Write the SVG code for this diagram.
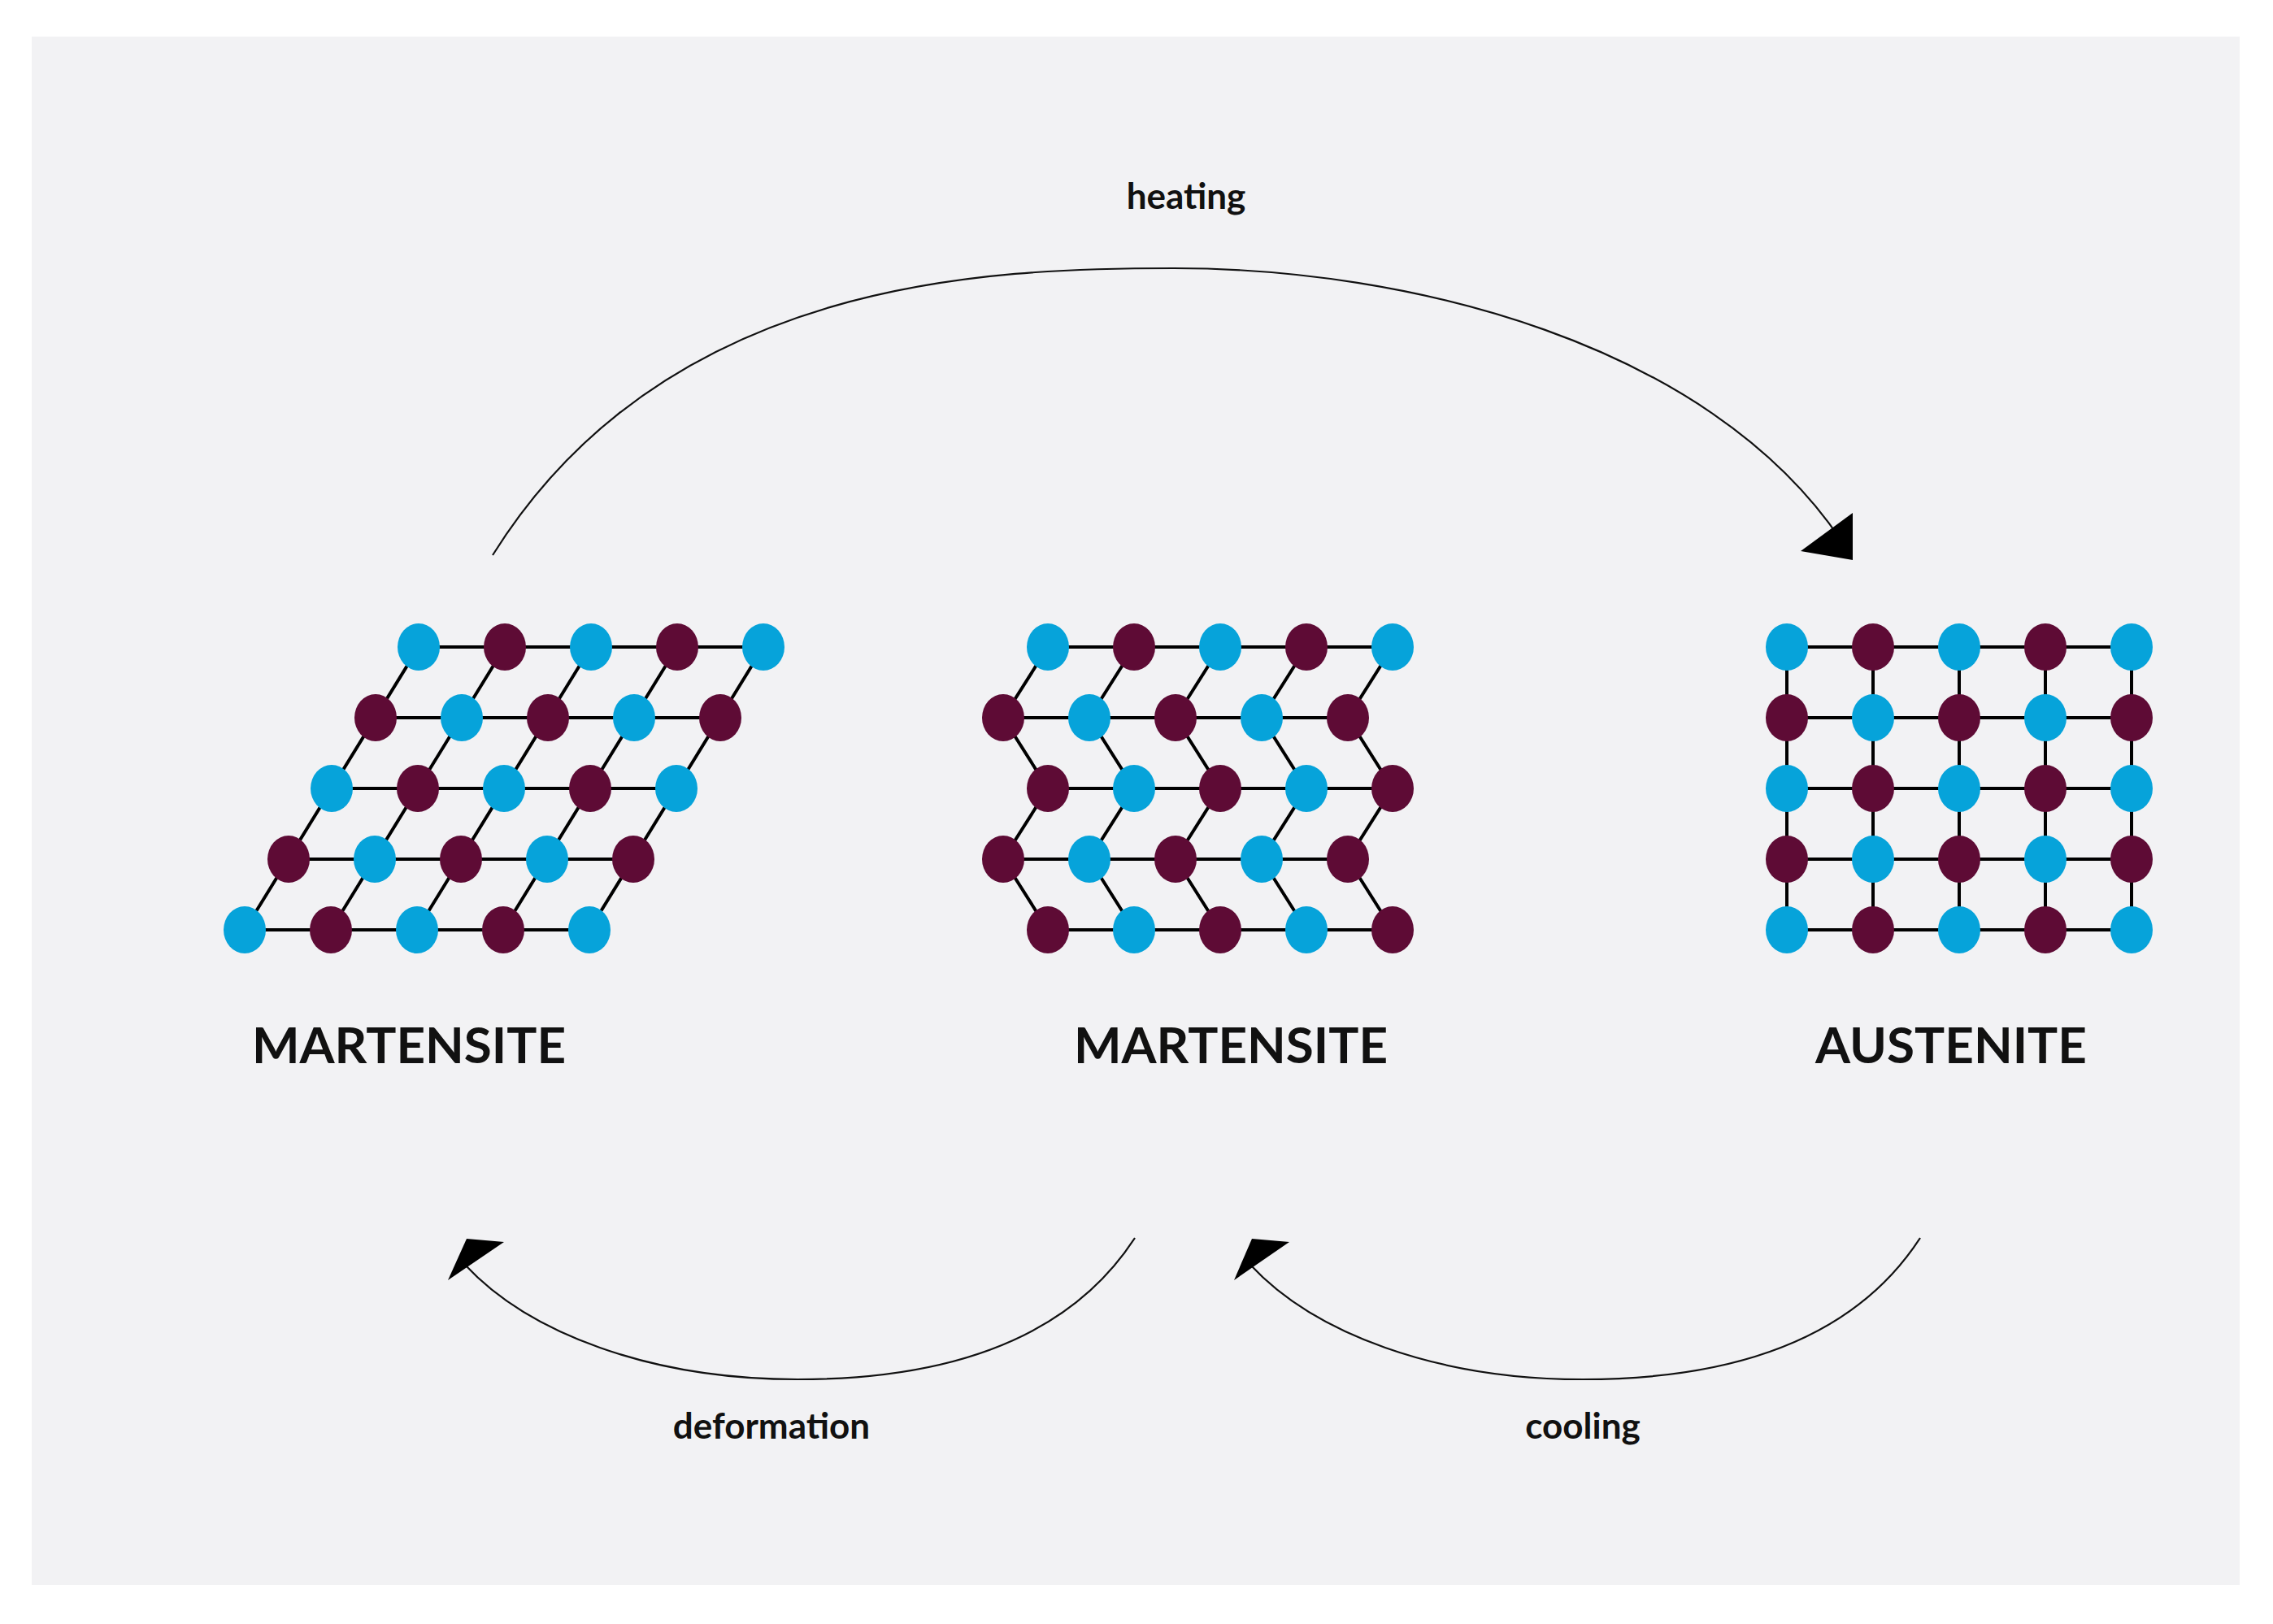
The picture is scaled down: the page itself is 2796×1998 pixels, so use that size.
<svg xmlns="http://www.w3.org/2000/svg" width="2796" height="1998" viewBox="0 0 2796 1998">
<style>
.b{fill:#06a3da}.m{fill:#5e0b35}
.bond{stroke:#000;stroke-width:4;fill:none}
.arc{stroke:#111;stroke-width:2.2;fill:none}
.lbl{font-family:Lato,"Liberation Sans",sans-serif;font-weight:bold;font-size:62px;text-anchor:middle;fill:#111}
.sm{font-family:Lato,"Liberation Sans",sans-serif;font-weight:bold;font-size:44px;text-anchor:middle;fill:#111}
</style>
<defs>
<ellipse id="d" rx="26" ry="29"/>
</defs>
<rect width="2796" height="1998" fill="#fff"/>
<rect x="39" y="45" width="2716" height="1905" fill="#f2f2f4"/>
<g id="connectors">
<path class="arc" d="M606 683 C820 340,1220 330,1444 330 C1730 330,2100 420,2265 665"/>
<polygon points="2279,689 2215,678 2279,631"/>
<path class="arc" d="M1396 1523 C1320 1640,1180 1697,981 1697 C800 1697,650 1640,572 1556"/>
<polygon points="551,1575 574,1524 620,1528"/>
<path class="arc" d="M2362 1523 C2286 1640,2146 1697,1947 1697 C1766 1697,1616 1640,1538 1556"/>
<polygon points="1518,1575 1540,1524 1586,1528"/>
</g>
<g id="martensite-sheared">
<g class="bond">
<path d="M515 796H939M462 883H886M408 970H832M355 1057H779M301 1144H725"/>
<path d="M515 796L301 1144M621 796L407 1144M727 796L513 1144M833 796L619 1144M939 796L725 1144"/>
</g>
<use href="#d" x="515" y="796" class="b"/><use href="#d" x="621" y="796" class="m"/><use href="#d" x="727" y="796" class="b"/><use href="#d" x="833" y="796" class="m"/><use href="#d" x="939" y="796" class="b"/>
<use href="#d" x="462" y="883" class="m"/><use href="#d" x="568" y="883" class="b"/><use href="#d" x="674" y="883" class="m"/><use href="#d" x="780" y="883" class="b"/><use href="#d" x="886" y="883" class="m"/>
<use href="#d" x="408" y="970" class="b"/><use href="#d" x="514" y="970" class="m"/><use href="#d" x="620" y="970" class="b"/><use href="#d" x="726" y="970" class="m"/><use href="#d" x="832" y="970" class="b"/>
<use href="#d" x="355" y="1057" class="m"/><use href="#d" x="461" y="1057" class="b"/><use href="#d" x="567" y="1057" class="m"/><use href="#d" x="673" y="1057" class="b"/><use href="#d" x="779" y="1057" class="m"/>
<use href="#d" x="301" y="1144" class="b"/><use href="#d" x="407" y="1144" class="m"/><use href="#d" x="513" y="1144" class="b"/><use href="#d" x="619" y="1144" class="m"/><use href="#d" x="725" y="1144" class="b"/>
<text class="lbl" x="503" y="1308">MARTENSITE</text>
</g>
<g id="martensite-twinned">
<g class="bond">
<path d="M1289 796H1713M1234 883H1658M1289 970H1713M1234 1057H1658M1289 1144H1713"/>
<path d="M1289 796L1234 883L1289 970L1234 1057L1289 1144M1395 796L1340 883L1395 970L1340 1057L1395 1144M1501 796L1446 883L1501 970L1446 1057L1501 1144M1607 796L1552 883L1607 970L1552 1057L1607 1144M1713 796L1658 883L1713 970L1658 1057L1713 1144"/>
</g>
<use href="#d" x="1289" y="796" class="b"/><use href="#d" x="1395" y="796" class="m"/><use href="#d" x="1501" y="796" class="b"/><use href="#d" x="1607" y="796" class="m"/><use href="#d" x="1713" y="796" class="b"/>
<use href="#d" x="1234" y="883" class="m"/><use href="#d" x="1340" y="883" class="b"/><use href="#d" x="1446" y="883" class="m"/><use href="#d" x="1552" y="883" class="b"/><use href="#d" x="1658" y="883" class="m"/>
<use href="#d" x="1289" y="970" class="m"/><use href="#d" x="1395" y="970" class="b"/><use href="#d" x="1501" y="970" class="m"/><use href="#d" x="1607" y="970" class="b"/><use href="#d" x="1713" y="970" class="m"/>
<use href="#d" x="1234" y="1057" class="m"/><use href="#d" x="1340" y="1057" class="b"/><use href="#d" x="1446" y="1057" class="m"/><use href="#d" x="1552" y="1057" class="b"/><use href="#d" x="1658" y="1057" class="m"/>
<use href="#d" x="1289" y="1144" class="m"/><use href="#d" x="1395" y="1144" class="b"/><use href="#d" x="1501" y="1144" class="m"/><use href="#d" x="1607" y="1144" class="b"/><use href="#d" x="1713" y="1144" class="m"/>
<text class="lbl" x="1514" y="1308">MARTENSITE</text>
</g>
<g id="austenite">
<g class="bond">
<path d="M2198 796H2622M2198 883H2622M2198 970H2622M2198 1057H2622M2198 1144H2622"/>
<path d="M2198 796V1144M2304 796V1144M2410 796V1144M2516 796V1144M2622 796V1144"/>
</g>
<use href="#d" x="2198" y="796" class="b"/><use href="#d" x="2304" y="796" class="m"/><use href="#d" x="2410" y="796" class="b"/><use href="#d" x="2516" y="796" class="m"/><use href="#d" x="2622" y="796" class="b"/>
<use href="#d" x="2198" y="883" class="m"/><use href="#d" x="2304" y="883" class="b"/><use href="#d" x="2410" y="883" class="m"/><use href="#d" x="2516" y="883" class="b"/><use href="#d" x="2622" y="883" class="m"/>
<use href="#d" x="2198" y="970" class="b"/><use href="#d" x="2304" y="970" class="m"/><use href="#d" x="2410" y="970" class="b"/><use href="#d" x="2516" y="970" class="m"/><use href="#d" x="2622" y="970" class="b"/>
<use href="#d" x="2198" y="1057" class="m"/><use href="#d" x="2304" y="1057" class="b"/><use href="#d" x="2410" y="1057" class="m"/><use href="#d" x="2516" y="1057" class="b"/><use href="#d" x="2622" y="1057" class="m"/>
<use href="#d" x="2198" y="1144" class="b"/><use href="#d" x="2304" y="1144" class="m"/><use href="#d" x="2410" y="1144" class="b"/><use href="#d" x="2516" y="1144" class="m"/><use href="#d" x="2622" y="1144" class="b"/>
<text class="lbl" x="2400" y="1308">AUSTENITE</text>
</g>
<g id="labels">
<text class="sm" x="1459" y="257">heating</text>
<text class="sm" x="949" y="1770">deformation</text>
<text class="sm" x="1947" y="1770">cooling</text>
</g>
</svg>
